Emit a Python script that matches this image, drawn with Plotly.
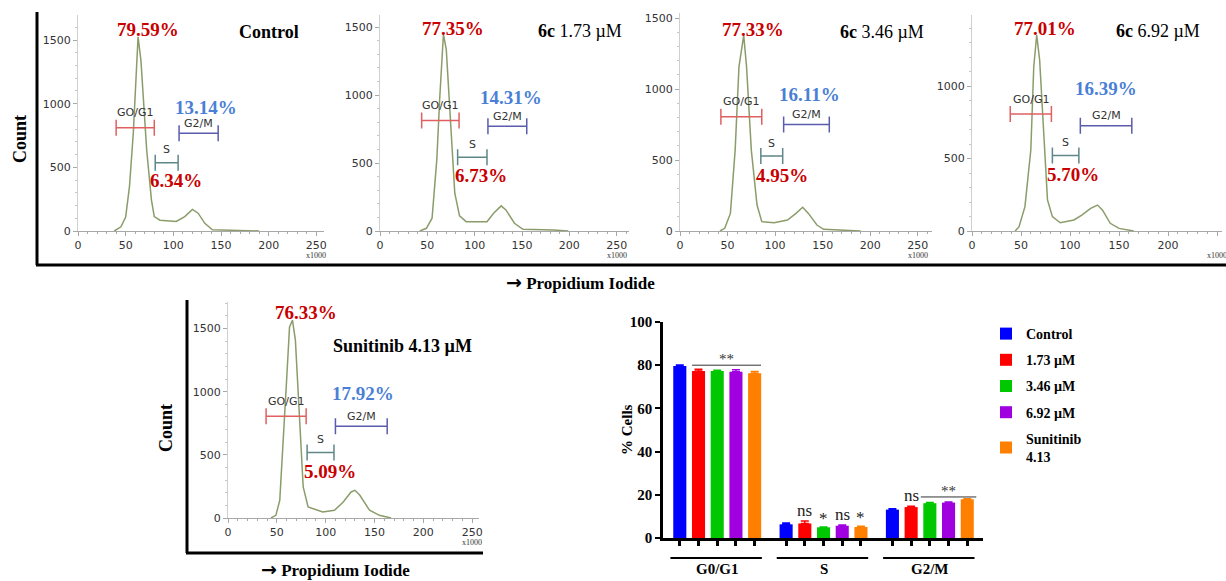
import plotly.graph_objects as go

W, H = 1226, 581
def X(px): return px / W
def Y(py): return 1 - py / H

SERIF = "Liberation Serif, Times New Roman, serif"
SANS = "DejaVu Sans, Verdana, sans-serif"
ARROW = '<span style="font-family:DejaVu Sans;font-size:19px"><b>→</b></span>'

# ---------------- data ----------------
panel_titles = ["<b>Control</b>", "<b>6c</b> 1.73 µM", "<b>6c</b> 3.46 µM",
                "<b>6c</b> 6.92 µM", "<b>Sunitinib 4.13 µM</b>"]
g0g1_pct = [79.59, 77.35, 77.33, 77.01, 76.33]
s_pct = [6.34, 6.73, 4.95, 5.70, 5.09]
g2m_pct = [13.14, 14.31, 16.11, 16.39, 17.92]

ctrl_pi = [38, 45, 50, 54, 58, 63, 66, 72, 77, 80, 86, 103, 112, 120, 126, 133, 141, 163, 190]
ctrl_count = [0, 33, 110, 350, 770, 1525, 1340, 640, 245, 113, 85, 75, 113, 170, 140, 60, 10, 3, 0]
c173_pi = [42, 49, 55, 60, 63, 67, 70, 75, 79, 84, 91, 113, 120, 128, 133, 142, 151, 183, 199]
c173_count = [0, 20, 94, 525, 968, 1448, 1337, 722, 278, 111, 69, 69, 130, 185, 155, 57, 12, 7, 0]
c346_pi = [42, 47, 53, 58, 62, 67, 70, 75, 81, 86, 99, 113, 122, 129, 135, 144, 151, 179, 190]
c346_count = [0, 19, 124, 570, 1157, 1380, 1157, 570, 183, 66, 59, 77, 124, 167, 124, 42, 12, 7, 0]
c692_pi = [44, 48, 54, 60, 63, 66, 69, 73, 77, 82, 90, 104, 112, 121, 128, 133, 141, 150, 165]
c692_count = [0, 30, 168, 559, 1133, 1352, 1179, 674, 214, 99, 57, 76, 110, 156, 179, 145, 53, 18, 0]
sun_pi = [44, 49, 53, 56, 60, 63, 66, 69, 73, 77, 82, 97, 109, 118, 126, 130, 135, 145, 155, 167]
sun_count = [0, 21, 140, 510, 1091, 1513, 1566, 1408, 827, 246, 87, 48, 61, 127, 206, 219, 180, 61, 21, 0]

# gates (PI x1000 units) and gate heights (counts)
g1_gate_lo = [40, 44, 43, 39, 39]
g1_gate_hi = [80, 83.5, 86, 81, 80]
g1_gate_y = [811, 813, 805, 807, 806]
s_gate_lo = [81, 82, 85, 82, 81]
s_gate_hi = [105, 113, 108, 109, 108.5]
s_gate_y = [537, 542, 528, 520, 518]
g2_gate_lo = [106, 114, 109, 110.5, 110]
g2_gate_hi = [147, 155, 157, 163, 163]
g2_gate_y = [767, 771, 751, 726, 726]

x_ticks = [0, 50, 100, 150, 200, 250]
y_ticks = [0, 500, 1000, 1500]

# bar chart data
phases = ["G0/G1", "S", "G2/M"]
series_names = ["Control", "1.73 µM", "3.46 µM", "6.92 µM", "Sunitinib<br>4.13"]
control_vals = [79.59, 6.34, 13.14]
c173_vals = [77.35, 6.73, 14.31]
c346_vals = [77.33, 4.95, 16.11]
c692_vals = [77.01, 5.70, 16.39]
sun_vals = [76.33, 5.09, 17.92]
control_err = [0.5, 0.6, 0.4]
c173_err = [0.8, 1.1, 0.4]
c346_err = [0.3, 0.2, 0.3]
c692_err = [0.9, 0.3, 0.3]
sun_err = [0.8, 0.3, 0.3]
s_sig = ["", "ns", "*", "ns", "*"]
g2m_sig = ["", "ns", "", "", ""]
bar_ticks = [0, 20, 40, 60, 80, 100]

# ---------------- layout constants ----------------
curves = [(ctrl_pi, ctrl_count), (c173_pi, c173_count), (c346_pi, c346_count),
          (c692_pi, c692_count), (sun_pi, sun_count)]
# pixel domains: (x0, x1, y_top, y_bottom), ranges
panel_dom = [(78, 324, 15, 231), (380, 629, 15, 231), (680, 932, 13, 231),
             (972, 1222, 15, 231), (228, 479, 302, 518)]
panel_xmax = [258, 263, 265, 255, 257]
panel_ymax = [1697, 1590, 1537, 1490, 1710]
g1_txt_xy = [(73, 1584), (77, 1490), (77, 1420), (74, 1398), (80, 1627)]
s_txt_xy = [(103, 400), (107, 406), (107, 390), (103, 391), (104, 372)]
g2_txt_xy = [(134, 972), (138, 985), (136, 960), (137, 982), (138, 988)]
title_xy = [(200, 1565), (211, 1475), (212, 1404), (190, 1382), (179, 1359)]

RED_T = "#c80000"
BLUE_T = "#4a7fd6"
CURVE = "#8b9c6b"
GATE_COL = ["#e06060", "#5f8787", "#5c5cae"]
AX_GRAY = "#a8a8a8"

fig = go.Figure()
layout = dict(width=W, height=H, margin=dict(l=0, r=0, t=0, b=0, autoexpand=False),
              paper_bgcolor="white", plot_bgcolor="white",
              showlegend=True, barmode="overlay")
annotations = []
shapes = []

def ann(**kw):
    kw.setdefault("showarrow", False)
    kw.setdefault("xanchor", "center")
    kw.setdefault("yanchor", "middle")
    annotations.append(kw)

for i in range(5):
    n = "" if i == 0 else str(i + 1)
    xa, ya = "x" + n, "y" + n
    x0, x1, yt, yb = panel_dom[i]
    layout["xaxis" + n] = dict(
        domain=[X(x0), X(x1)], range=[0, panel_xmax[i]], anchor=ya, automargin=False,
        showline=True, linecolor=AX_GRAY, linewidth=1, showgrid=False, zeroline=False,
        tickmode="array", tickvals=x_ticks, ticks="outside", ticklen=4, tickcolor=AX_GRAY,
        tickfont=dict(family=SANS, size=11, color="#333"),
        minor=dict(dtick=10, ticks="outside", ticklen=2, tickcolor=AX_GRAY))
    layout["yaxis" + n] = dict(
        domain=[Y(yb), Y(yt)], range=[0, panel_ymax[i]], anchor=xa, automargin=False,
        showline=True, linecolor="#d0d0d0", linewidth=1, showgrid=False, zeroline=False,
        tickmode="array", tickvals=y_ticks, ticks="outside", ticklen=4, tickcolor=AX_GRAY,
        tickfont=dict(family=SANS, size=11, color="#333"),
        minor=dict(dtick=100, ticks="outside", ticklen=2, tickcolor="#c8c8c8"))
    pi, cnt = curves[i]
    fig.add_trace(go.Scatter(x=pi, y=cnt, mode="lines", line=dict(color=CURVE, width=1.5),
                             xaxis=xa, yaxis=ya, showlegend=False, hoverinfo="skip"))
    gates = [(g1_gate_lo[i], g1_gate_hi[i], g1_gate_y[i], "GO/G1", 15),
             (s_gate_lo[i], s_gate_hi[i], s_gate_y[i], "S", 13),
             (g2_gate_lo[i], g2_gate_hi[i], g2_gate_y[i], "G2/M", 10)]
    for k, (lo, hi, gy, lab, shift) in enumerate(gates):
        c = (lo + hi) / 2
        fig.add_trace(go.Scatter(
            x=[c], y=[gy], mode="markers", marker=dict(size=1, color=GATE_COL[k]),
            error_x=dict(type="data", array=[(hi - lo) / 2], color=GATE_COL[k],
                         thickness=1.5, width=8),
            xaxis=xa, yaxis=ya, showlegend=False, hoverinfo="skip"))
        ann(x=c, y=gy, xref=xa, yref=ya, text=lab, yshift=shift,
            font=dict(family=SANS, size=11, color="#333"))
    ann(x=g1_txt_xy[i][0], y=g1_txt_xy[i][1], xref=xa, yref=ya,
        text="<b>%.2f%%</b>" % g0g1_pct[i], font=dict(family=SERIF, size=19, color=RED_T))
    ann(x=s_txt_xy[i][0], y=s_txt_xy[i][1], xref=xa, yref=ya,
        text="<b>%.2f%%</b>" % s_pct[i], font=dict(family=SERIF, size=19, color=RED_T))
    ann(x=g2_txt_xy[i][0], y=g2_txt_xy[i][1], xref=xa, yref=ya,
        text="<b>%.2f%%</b>" % g2m_pct[i], font=dict(family=SERIF, size=19, color=BLUE_T))
    ann(x=title_xy[i][0], y=title_xy[i][1], xref=xa, yref=ya,
        text=panel_titles[i], font=dict(family=SERIF, size=18, color="black"))
    ann(x=250, y=Y(yb + 24), xref=xa, yref="paper", text="x1000",
        font=dict(family=SERIF, size=8, color="#333"))

# frames and common labels
shapes += [
    dict(type="line", xref="paper", yref="paper", x0=X(37), x1=X(37), y0=Y(12), y1=Y(265),
         line=dict(color="black", width=3)),
    dict(type="line", xref="paper", yref="paper", x0=X(36), x1=X(1226), y0=Y(265), y1=Y(265),
         line=dict(color="black", width=3)),
    dict(type="line", xref="paper", yref="paper", x0=X(187), x1=X(187), y0=Y(300), y1=Y(553),
         line=dict(color="black", width=3)),
    dict(type="line", xref="paper", yref="paper", x0=X(186), x1=X(483), y0=Y(553), y1=Y(553),
         line=dict(color="black", width=3)),
]
ann(x=X(20), y=Y(139), xref="paper", yref="paper", text="<b>Count</b>", textangle=-90,
    font=dict(family=SERIF, size=18, color="black"))
ann(x=X(166), y=Y(428), xref="paper", yref="paper", text="<b>Count</b>", textangle=-90,
    font=dict(family=SERIF, size=18, color="black"))
ann(x=X(580), y=Y(282), xref="paper", yref="paper", text=ARROW + " <b>Propidium Iodide</b>",
    font=dict(family=SERIF, size=17, color="black"))
ann(x=X(335), y=Y(569), xref="paper", yref="paper", text=ARROW + " <b>Propidium Iodide</b>",
    font=dict(family=SERIF, size=17, color="black"))

# ---------------- bar chart ----------------
bar_vals = [control_vals, c173_vals, c346_vals, c692_vals, sun_vals]
bar_errs = [control_err, c173_err, c346_err, c692_err, sun_err]
bar_cols = ["#0000ff", "#ff0000", "#00c800", "#a000e0", "#ff8000"]
STEP, BW = 0.176, 0.123
def pos(g, s): return g + (s - 2) * STEP

for s in range(5):
    fig.add_trace(go.Bar(
        x=[pos(g, s) for g in range(3)], y=bar_vals[s], width=BW, name=series_names[s],
        marker=dict(color=bar_cols[s], line=dict(width=0)),
        error_y=dict(type="data", symmetric=False, array=bar_errs[s], arrayminus=[0, 0, 0],
                     color=bar_cols[s], thickness=1.5, width=4),
        xaxis="x6", yaxis="y6", legendgroup=series_names[s], hoverinfo="skip"))

layout["xaxis6"] = dict(domain=[X(663), X(983)], range=[-0.51, 2.5], anchor="y6",
                        automargin=False,
                        showline=True, linecolor="black", linewidth=2.5, showgrid=False,
                        zeroline=False, tickmode="array",
                        tickvals=[pos(g, s) for g in range(3) for s in range(5)],
                        ticks="outside", ticklen=5, tickwidth=2.5, tickcolor="black",
                        showticklabels=False)
layout["yaxis6"] = dict(domain=[Y(538), Y(322)], range=[0, 100], anchor="x6",
                        automargin=False,
                        showline=True, linecolor="black", linewidth=2.5, showgrid=False,
                        zeroline=False, tickmode="array", tickvals=bar_ticks,
                        ticks="outside", ticklen=5, tickwidth=2, tickcolor="black",
                        tickfont=dict(family=SERIF, size=15, color="black", weight="bold"))
ann(x=X(627), y=Y(430), xref="paper", yref="paper", text="<b>% Cells</b>", textangle=-90,
    font=dict(family=SERIF, size=15, color="black"))
for g in range(3):
    shapes.append(dict(type="line", xref="x6", yref="paper", x0=g - 0.44, x1=g + 0.42,
                       y0=Y(558), y1=Y(558), line=dict(color="black", width=2)))
    ann(x=g, y=Y(569), xref="x6", yref="paper", text="<b>%s</b>" % phases[g],
        font=dict(family=SERIF, size=15, color="black"))

# significance marks
for s in range(5):
    for g, sig in ((1, s_sig[s]), (2, g2m_sig[s])):
        if sig:
            ann(x=pos(g, s), y=bar_vals[s][g] + bar_errs[s][g], xref="x6", yref="y6",
                text=sig, yanchor="bottom", yshift=-3 if sig == "*" else -1,
                font=dict(family=SERIF, size=17, color="#222"))
for g, s_from, s_to, yb, half in ((0, 1, 4, 80, 0.06), (2, 2, 4, 19, 0.085)):
    shapes.append(dict(type="line", xref="x6", yref="y6", x0=pos(g, s_from) - half,
                       x1=pos(g, s_to) + half, y0=yb, y1=yb, line=dict(color="#333", width=1)))
    ann(x=(pos(g, s_from) + pos(g, s_to)) / 2, y=yb, xref="x6", yref="y6",
        text="**", yanchor="bottom", yshift=-4,
        font=dict(family=SERIF, size=15, color="#333"))

layout["legend"] = dict(x=X(986), y=Y(318), xanchor="left", yanchor="top",
                        font=dict(family=SERIF, size=14, color="black", weight="bold"),
                        tracegroupgap=5, bgcolor="rgba(0,0,0,0)")
layout["annotations"] = annotations
layout["shapes"] = shapes
fig.update_layout(**layout)
fig.write_html("out.html")
